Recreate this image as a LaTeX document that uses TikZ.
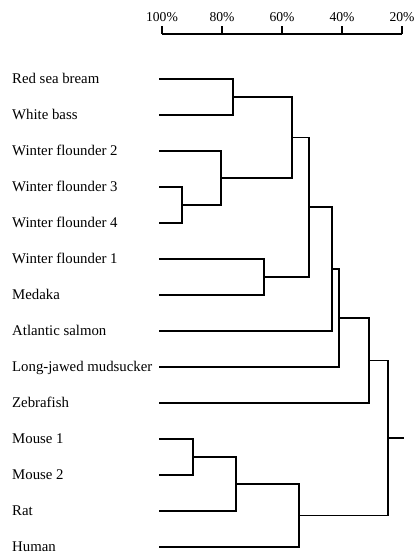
\documentclass[tikz,border=0pt]{standalone}
\usepackage{fontspec}
\setmainfont{Liberation Serif}
\begin{document}
\begin{tikzpicture}[x=1pt,y=-1pt,
    branch/.style={line width=1.9pt, line join=miter, line cap=rect},
    taxon/.style={anchor=base west, inner sep=0pt, font=\fontsize{14.8}{16}\selectfont},
    scalelabel/.style={anchor=base, inner sep=0pt, font=\fontsize{13.6}{15}\selectfont},
    axisline/.style={line width=1.9pt}]
\useasboundingbox (0,0) rectangle (416,554);

% similarity scale (3 units per percent, 100% at x=162)
\foreach \p/\x in {100/162,80/222,60/282,40/342,20/402}{
  \coordinate (tt\p) at (\x,26);
  \coordinate (tb\p) at (\x,34);
  \node[scalelabel] (sl\p) at (\x,21) {\p\%};
  \draw[axisline] (tt\p) -- (tb\p);
}
\draw[axisline] (tb100) -- (tb20);

% taxa: label and start of leaf branch
\foreach \i/\name in {0/Red sea bream,1/White bass,2/Winter flounder 2,
    3/Winter flounder 3,4/Winter flounder 4,5/Winter flounder 1,6/Medaka,
    7/Atlantic salmon,8/Long-jawed mudsucker,9/Zebrafish,10/Mouse 1,
    11/Mouse 2,12/Rat,13/Human}{
  \pgfmathsetmacro{\yy}{79+36*\i}
  \node[taxon] (t\i) at (12,\yy+4.5) {\name};
  \coordinate (l\i) at (160,\yy);
}

% cluster junctions (each at the middle of its bracket)
\coordinate (jA) at (233.3,97);
\coordinate (jB) at (181.7,205);
\coordinate (jC) at (221,178);
\coordinate (jD) at (291.7,137.5);
\coordinate (jE) at (264.3,277);
\coordinate (jF) at (309,207.25);
\coordinate (jG) at (332,269.1);
\coordinate (jH) at (339,318.05);
\coordinate (jI) at (369,360.5);
\coordinate (jJ) at (193.3,457);
\coordinate (jK) at (236,484);
\coordinate (jL) at (299.3,515.5);
\coordinate (root) at (387.7,438);
\coordinate (rootend) at (403,438);

% brackets
\draw[branch] (l0) -| (jA) |- (l1);
\draw[branch] (l3) -| (jB) |- (l4);
\draw[branch] (l2) -| (jC) |- (jB);
\draw[branch] (jA) -| (jD) |- (jC);
\draw[branch] (l5) -| (jE) |- (l6);
\draw[branch] (jD) -| (jF) |- (jE);
\draw[branch] (jF) -| (jG) |- (l7);
\draw[branch] (jG) -| (jH) |- (l8);
\draw[branch] (jH) -| (jI) |- (l9);
\draw[branch] (l10) -| (jJ) |- (l11);
\draw[branch] (jJ) -| (jK) |- (l12);
\draw[branch] (jK) -| (jL) |- (l13);
\draw[branch] (jI) -| (root) |- (jL);
\draw[branch] (root) -- (rootend);
\end{tikzpicture}
\end{document}
